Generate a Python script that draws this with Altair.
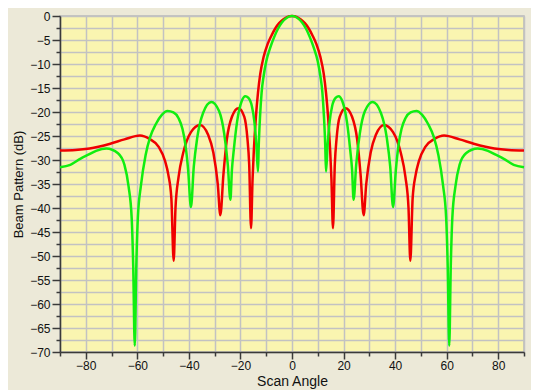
import altair as alt
import pandas as pd

# ---- data ----
red_angle = [-90, -84, -78.5, -70.5, -65, -59, -55.3, -51.8, -49.2, -48, -46.8, -45.9, -45.2, -44, -42.2,
             -39.2, -35.7, -32.5, -30.5, -28.8, -27.8, -26.6, -25.3, -23.3, -20.8, -18.5, -17.3, -16.6,
             -15.9, -15.3, -14.8, -14, -13.2, -12.3, -11, -9.5, -8, -6.5, -5, -3.3, -2,
             0, 2, 3.3, 5, 6.5, 8, 9.5, 11, 12.3, 13.2, 14, 14.8, 15.3, 15.9, 16.6, 17.3, 18.5, 20.8,
             23.3, 25.3, 26.6, 27.8, 28.8, 30.5, 32.5, 35.7, 39.2, 42.2, 44, 45.2, 45.9, 46.8, 48, 49.2,
             51.8, 55.3, 59, 65, 70.5, 78.5, 84, 90]
red_db = [-28, -27.9, -27.6, -26.6, -25.7, -24.9, -25.6, -27.2, -30.3, -33, -38, -51, -40, -33.5, -28.5,
          -24.2, -22.7, -24.8, -28.5, -35, -41.5, -33, -25.8, -21, -19.2, -21, -25.5, -31,
          -44.2, -34, -28, -21, -16, -12, -8.5, -5.9, -4.1, -2.6, -1.5, -0.7, -0.25,
          0, -0.25, -0.7, -1.5, -2.6, -4.1, -5.9, -8.5, -12, -16, -21, -28, -34, -44.2, -31, -25.5, -21, -19.2,
          -21, -25.8, -33, -41.5, -35, -28.5, -24.8, -22.7, -24.2, -28.5, -33.5, -40, -51, -38, -33, -30.3,
          -27.2, -25.6, -24.9, -25.7, -26.6, -27.6, -27.9, -28]

green_angle = [-90, -86, -82, -79, -76, -72, -67.5, -65, -63.4, -62.2, -61.6, -61, -60.4, -59.8, -58.6,
               -56.8, -55, -52.8, -50.5, -48.3, -46, -44, -42.5, -41.3, -40.3, -39.2, -38.1, -36.8, -34.5,
               -31.3, -28.3, -26.3, -24.9, -23.9, -23.3, -22.6, -21.3, -19.5, -18.1, -17.0, -15.6, -14.6,
               -13.8, -13.2, -12.9, -12.4, -11.8, -11, -10, -8.5, -7, -5.5, -4, -2,
               0, 2, 4, 5.5, 7, 8.5, 10, 11, 11.8, 12.4, 12.9, 13.2, 13.8, 14.6, 15.6, 17.0, 18.1, 19.5,
               21.3, 22.6, 23.3, 23.9, 24.9, 26.3, 28.3, 31.3, 34.5, 36.8, 38.1, 39.2, 40.3, 41.3, 42.5,
               44, 46, 48.3, 50.5, 52.8, 55, 56.8, 58.6, 59.8, 60.4, 61, 61.6, 62.2, 63.4, 65, 67.5, 72,
               76, 79, 82, 86, 90]
green_db = [-31.5, -31, -29.7, -28.9, -28.1, -27.6, -28.6, -31, -35.5, -42, -52, -68.7, -52, -42, -35.3,
            -29, -25.2, -22.5, -20.6, -19.8, -20.1, -21.3, -23.5, -27, -32, -39.8, -31.4, -25.5, -20.2,
            -17.9, -19.8, -24.5, -31, -38.3, -32, -28, -22, -17.7, -16.7, -17.0, -18.7, -22,
            -27, -32.4, -27, -21, -16, -12.5, -9.5, -6.7, -4.5, -2.7, -1.4, -0.35,
            0, -0.35, -1.4, -2.7, -4.5, -6.7, -9.5, -12.5, -16, -21, -27, -32.4, -27, -22, -18.7, -17.0, -16.7, -17.7,
            -22, -28, -32, -38.3, -31, -24.5, -19.8, -17.9, -20.2, -25.5, -31.4, -39.8, -32, -27, -23.5,
            -21.3, -20.1, -19.8, -20.6, -22.5, -25.2, -29, -35.3, -42, -52, -68.7, -52, -42, -35.5, -31, -28.6, -27.6,
            -28.1, -28.9, -29.7, -31, -31.5]

x_tick_values = [-90, -80, -70, -60, -50, -40, -30, -20, -10, 0, 10, 20, 30, 40, 50, 60, 70, 80, 90]
y_tick_values = [-70, -67.5, -65, -62.5, -60, -57.5, -55, -52.5, -50, -47.5, -45, -42.5, -40, -37.5,
                 -35, -32.5, -30, -27.5, -25, -22.5, -20, -17.5, -15, -12.5, -10, -7.5, -5, -2.5, 0]

df_red = pd.DataFrame({"angle": red_angle, "db": red_db})
df_green = pd.DataFrame({"angle": green_angle, "db": green_db})

FONT = "Liberation Sans"
AXC = "#3a3a3a"
GRID = "#c2c2c2"

x_axis = alt.Axis(
    values=x_tick_values,
    format="d",
    labelExpr="datum.value % 20 === 0 ? datum.label : ''",
    tickSize={"condition": {"test": "datum.value % 20 === 0", "value": 7}, "value": 4},
    labelPadding=1,
    titlePadding=3,
    grid=True,
)
y_axis = alt.Axis(
    values=y_tick_values,
    format="d",
    labelExpr="datum.value % 5 === 0 ? datum.label : ''",
    tickSize={"condition": {"test": "datum.value % 5 === 0", "value": 8}, "value": 4},
    labelPadding=2,
    titlePadding=4,
    grid=True,
)

xenc = alt.X("angle:Q", scale=alt.Scale(domain=[-90, 90], nice=False, zero=False),
             axis=x_axis, title="Scan Angle")
yenc = alt.Y("db:Q", scale=alt.Scale(domain=[-70, 0], nice=False, zero=False),
             axis=y_axis, title="Beam Pattern (dB)")

red = alt.Chart(df_red).mark_line(color="#f00000", strokeWidth=2.5, interpolate="monotone").encode(x=xenc, y=yenc)
green = alt.Chart(df_green).mark_line(color="#10ee10", strokeWidth=2.5, interpolate="monotone").encode(x=xenc, y=yenc)

chart = (
    alt.layer(red, green)
    .properties(
        width=464,
        height=336,
        autosize=alt.AutoSizeParams(type="none"),
        padding={"left": 52, "top": 8, "right": 7, "bottom": 38},
        background="#ece9d8",
    )
    .configure_view(fill="#faf5b0", stroke="#b8b8b8", strokeWidth=1.5)
    .configure_axis(
        domainColor=AXC,
        domainWidth=1.5,
        tickColor=AXC,
        tickWidth=1.5,
        gridColor=GRID,
        gridWidth=1.5,
        labelFont=FONT,
        labelFontSize=12,
        labelColor="#111111",
        titleFont=FONT,
        titleFontWeight="normal",
        titleColor="#111111",
    )
    .configure_axisX(titleFontSize=14)
    .configure_axisY(titleFontSize=13)
)

chart.save("out.html", embed_options={"renderer": "svg", "actions": False})
